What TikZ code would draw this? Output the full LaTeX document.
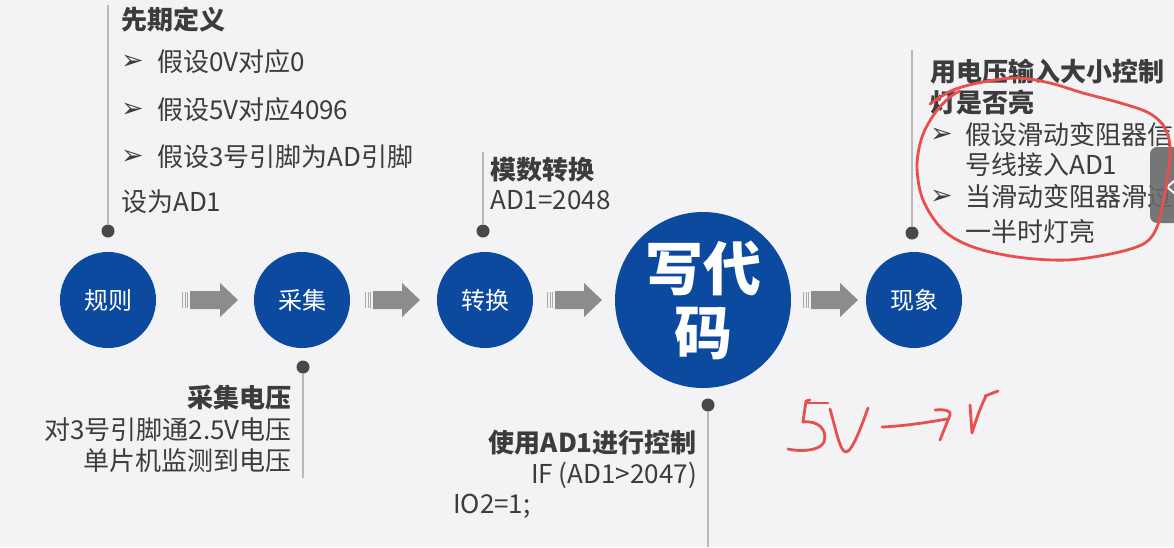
\documentclass[tikz,border=0pt]{standalone}
\usepackage{fontspec}
\setmainfont{Noto Sans CJK SC}
\newfontfamily\symfont{DejaVu Sans}
\usetikzlibrary{calc}

\definecolor{bg}{HTML}{F3F2F5}
\definecolor{circblue}{HTML}{0B4A9E}
\definecolor{arrowgray}{HTML}{8C8B8D}
\definecolor{linegray}{HTML}{B8B8BA}
\definecolor{dotgray}{HTML}{48484A}
\definecolor{txt}{HTML}{3C3C3E}
\definecolor{ink}{HTML}{E8504E}
\definecolor{tabgray}{HTML}{69696B}

\tikzset{
  stage/.style={circle, fill=circblue, text=white, minimum size=96pt, inner sep=0pt,
    font=\fontsize{24}{28}\selectfont},
  bigstage/.style={circle, fill=circblue, text=white, minimum size=176pt, inner sep=0pt,
    align=center, font=\fontsize{58}{64}\selectfont\bfseries},
  stem/.style={draw=linegray, line width=1.6pt},
  knob/.style={circle, fill=dotgray, minimum size=13pt, inner sep=0pt},
  body/.style={text=txt, inner sep=0pt, font=\fontsize{26}{31}\selectfont},
  head/.style={text=txt, inner sep=0pt, font=\fontsize{26}{31}\selectfont\bfseries},
  bullet/.style={text=txt, inner sep=0pt, font=\symfont\fontsize{27}{28}\selectfont},
  pen/.style={draw=ink, line width=2.8pt, line cap=round, line join=round},
}

% grey block arrow from #1 (tail) to #2 (tip), with a striped tail
\newcommand\blockarrow[2]{%
  \fill[arrowgray] ($(#1)+(8,-9)$) -- ($(#2)+(-18,-9)$) -- ($(#2)+(-18,-17)$) -- (#2)
    -- ($(#2)+(-18,17)$) -- ($(#2)+(-18,9)$) -- ($(#1)+(8,9)$) -- cycle;
  \foreach \s in {0,2.6,5.2}
    \fill[arrowgray!75] ($(#1)+(\s,-8)$) rectangle ($(#1)+(\s+1.2,8)$);
}

\begin{document}
\begin{tikzpicture}[x=1pt,y=-1pt]
  \useasboundingbox (0,0) rectangle (1174,547);
  \fill[bg] (0,0) rectangle (1174,547);

  % stages
  \node[stage] (rule) at (108,300) {规则};
  \node[stage] (collect) at (302,300) {采集};
  \node[stage] (convert) at (485,300) {转换};
  \node[bigstage] (code) at (703,300) {写代\\码};
  \node[stage] (effect) at (914,300) {现象};

  % arrows between stages
  \coordinate (a1s) at (182,300); \coordinate (a1e) at (238,300);
  \coordinate (a2s) at (365,300); \coordinate (a2e) at (420,300);
  \coordinate (a3s) at (547,300); \coordinate (a3e) at (602,300);
  \coordinate (a4s) at (803,300); \coordinate (a4e) at (858,300);
  \blockarrow{a1s}{a1e}
  \blockarrow{a2s}{a2e}
  \blockarrow{a3s}{a3e}
  \blockarrow{a4s}{a4e}

  % timeline stems with knobs
  \node[knob] (k1) at (108,231) {};
  \coordinate (k1end) at (108,5);
  \draw[stem] (k1end) -- (k1);
  \node[knob] (k2) at (303,367) {};
  \coordinate (k2end) at (303,478);
  \draw[stem] (k2) -- (k2end);
  \node[knob] (k3) at (483,231) {};
  \coordinate (k3end) at (483,152);
  \draw[stem] (k3end) -- (k3);
  \node[knob] (k4) at (708,405) {};
  \coordinate (k4end) at (708,547);
  \draw[stem] (k4) -- (k4end);
  \node[knob] (k5) at (912,233) {};
  \coordinate (k5end) at (912,50);
  \draw[stem] (k5end) -- (k5);

  % rules block
  \node[head, anchor=west] (tA) at (121,20) {先期定义};
  \node[bullet, anchor=west] (bA1) at (121,62) {➢};
  \node[body, anchor=west] (tA1) at (157,62) {假设0V对应0};
  \node[bullet, anchor=west] (bA2) at (121,110) {➢};
  \node[body, anchor=west] (tA2) at (157,110) {假设5V对应4096};
  \node[bullet, anchor=west] (bA3) at (121,157) {➢};
  \node[body, anchor=west] (tA3) at (157,157) {假设3号引脚为AD引脚};
  \node[body, anchor=west] (tA4) at (121,202) {设为AD1};

  % collect block
  \node[head, anchor=east] (tB) at (292,398) {采集电压};
  \node[body, anchor=east] (tB1) at (292,430) {对3号引脚通2.5V电压};
  \node[body, anchor=east] (tB2) at (292,461) {单片机监测到电压};

  % convert block
  \node[head, anchor=west] (tC) at (490,170) {模数转换};
  \node[body, anchor=west] (tC1) at (490,200) {AD1=2048};

  % code block
  \node[head, anchor=east] (tD) at (697,443) {使用AD1进行控制};
  \node[body, anchor=east] (tD1) at (697,475) {IF (AD1>2047)};
  \node[body, anchor=west] (tD2) at (453,506) {IO2=1;};

  % effect block
  \node[head, anchor=west] (tE) at (930,72) {用电压输入大小控制};
  \node[head, anchor=west] (tE0) at (930,102) {灯是否亮};
  \node[bullet, anchor=west] (bE1) at (930,135) {➢};
  \node[body, anchor=west] (tE1) at (965,135) {假设滑动变阻器信};
  \node[body, anchor=west] (tE2) at (965,165) {号线接入AD1};
  \node[bullet, anchor=west] (bE2) at (930,197) {➢};
  \node[body, anchor=west] (tE3) at (965,197) {当滑动变阻器滑过};
  \node[body, anchor=west] (tE4) at (965,232) {一半时灯亮};

  % side tab
  \fill[tabgray, opacity=0.9, rounded corners=7pt] (1150,147) rectangle (1195,223);
  \draw[white, line width=2pt] (1180,176) -- (1167,187) -- (1180,198);

  % hand-drawn marks
  \draw[pen] plot[smooth, tension=0.55] coordinates {
    (930,104) (953,90) (983,82) (1017,78) (1050,83) (1083,93) (1117,102) (1147,112)
    (1163,125) (1170,145) (1168,175) (1163,203) (1157,227) (1145,243) (1115,253)
    (1067,260) (1017,257) (973,247) (943,230) (923,200) (917,167) (922,137) (935,113)
    (950,97) (960,91)};
  \draw[pen] (810,400) -- (806,401) -- (803,422)
    .. controls (818,420) and (828,430) .. (824,442)
    .. controls (820,451) and (800,452) .. (788,449);
  \draw[pen] (807,403) -- (828,403);
  \draw[pen] (830,409) .. controls (836,430) and (840,452) .. (846,452)
    .. controls (852,452) and (862,425) .. (868,408);
  \draw[pen] (882,427) .. controls (905,426) and (930,422) .. (947,419);
  \draw[pen] (935,410) .. controls (945,409) and (952,411) .. (950,415)
    -- (940,440);
  \draw[pen] (970,405) -- (972,433) .. controls (976,420) and (980,408) .. (986,396);
  \draw[pen] (985,396) -- (998,391);
\end{tikzpicture}
\end{document}
